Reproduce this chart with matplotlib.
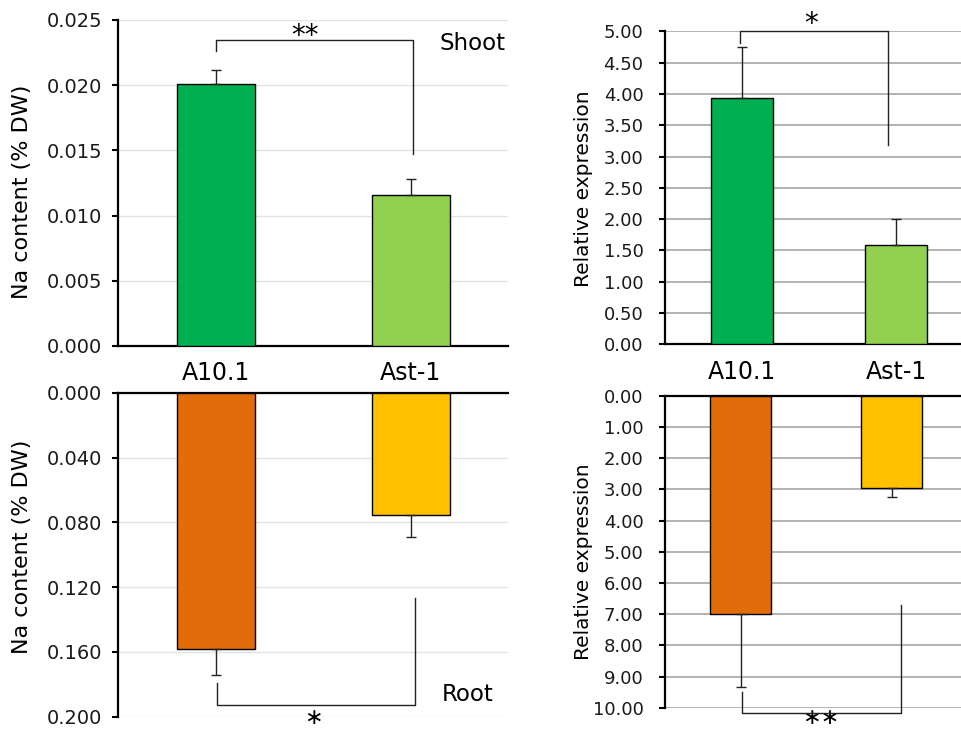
import matplotlib.pyplot as plt
import matplotlib.transforms as mtransforms
import numpy as np

# data
lines = ['A10.1', 'Ast-1']
na_shoot = [0.0201, 0.0116]
na_shoot_err = [0.0011, 0.0012]
na_root = [0.158, 0.0755]
na_root_err = [0.0163, 0.0134]
expr_shoot = [3.94, 1.58]
expr_shoot_err = [0.81, 0.42]
expr_root = [7.01, 2.95]
expr_root_err = [2.34, 0.31]

shoot_colors = ['#00b050', '#92d050']
root_colors = ['#e36c0a', '#ffc000']

plt.rcParams['font.family'] = 'DejaVu Sans'

fig = plt.figure(figsize=(9.62, 7.29), dpi=100)
ax_tl = fig.add_axes([0.1227, 0.5254, 0.4054, 0.4472])
ax_bl = fig.add_axes([0.1227, 0.0169, 0.4054, 0.4444])
ax_tr = fig.add_axes([0.6913, 0.5277, 0.3202, 0.4293])
ax_br = fig.add_axes([0.6913, 0.0292, 0.3140, 0.4280])

x = np.arange(len(lines))


def style_axes(ax, grid_color, grid_lw, top_axis, pad):
    ax.set_xlim(-0.5, 1.5)
    for s in ['left', 'right', 'top', 'bottom']:
        ax.spines[s].set_visible(False)
    ax.spines['left'].set_visible(True)
    ax.spines['left'].set_linewidth(1.6)
    edge = 'top' if top_axis else 'bottom'
    ax.spines[edge].set_visible(True)
    ax.spines[edge].set_linewidth(1.6)
    ax.yaxis.grid(True, color=grid_color, linewidth=grid_lw)
    ax.set_axisbelow(True)
    ax.tick_params(axis='y', direction='out', length=4, width=1.5, pad=pad,
                   labelcolor='#1a1a1a')
    ax.tick_params(axis='x', length=0)


def draw_bars(ax, vals, errs, colors):
    ax.bar(x, vals, width=0.4, color=colors, edgecolor='black', linewidth=1.0, zorder=3)
    ax.errorbar(x, vals, yerr=[[0, 0], errs], fmt='none', ecolor='#222222',
                elinewidth=1.0, capsize=3.5, capthick=1.0, zorder=4)


def bracket(ax, xs, ys):
    ax.plot(xs, ys, color='#222222', linewidth=1.0, clip_on=False, zorder=5)


# top left: Na content shoot
draw_bars(ax_tl, na_shoot, na_shoot_err, shoot_colors)
style_axes(ax_tl, '#e3e3e3', 1.0, False, 7.5)
ax_tl.set_ylim(0, 0.025)
ax_tl.set_yticks(np.arange(0, 0.0251, 0.005))
ax_tl.set_yticklabels([f'{v:.3f}' for v in np.arange(0, 0.0251, 0.005)], fontsize=14)
ax_tl.set_xticks(x)
ax_tl.set_xticklabels(lines, fontsize=17)
ax_tl.tick_params(axis='x', pad=11)
ax_tl.set_ylabel('Na content (% DW)', fontsize=16)
ax_tl.yaxis.set_label_coords(-0.22, 0.472)
bracket(ax_tl, [0.0, 0.0, 1.013, 1.013], [0.0226, 0.02344, 0.02344, 0.0147])
ax_tl.text(0.46, 0.0238, '**', fontsize=20, ha='center', va='center')
ax_tl.text(1.32, 0.02323, 'Shoot', fontsize=16.5, ha='center', va='center')

# bottom left: Na content root (inverted)
draw_bars(ax_bl, na_root, na_root_err, root_colors)
style_axes(ax_bl, '#e3e3e3', 1.0, True, 7.5)
ax_bl.set_ylim(0.2, 0)
ax_bl.set_yticks(np.arange(0, 0.201, 0.04))
ax_bl.set_yticklabels([f'{v:.3f}' for v in np.arange(0, 0.201, 0.04)], fontsize=14)
ax_bl.set_xticks([])
ax_bl.set_ylabel('Na content (% DW)', fontsize=16)
ax_bl.yaxis.set_label_coords(-0.22, 0.525)
bracket(ax_bl, [0.006, 0.006, 1.023, 1.023], [0.179, 0.193, 0.193, 0.1265])
trans_bl = mtransforms.blended_transform_factory(ax_bl.transData, fig.transFigure)
ax_bl.text(0.5, 0.001, '\u2217', fontsize=16, ha='center', va='bottom', transform=trans_bl)
ax_bl.text(1.295, 0.1866, 'Root', fontsize=16.5, ha='center', va='center')

# top right: relative expression shoot
draw_bars(ax_tr, expr_shoot, expr_shoot_err, shoot_colors)
style_axes(ax_tr, '#a6a6a6', 1.2, False, 11.5)
ax_tr.set_ylim(0, 5)
ax_tr.set_yticks(np.arange(0, 5.01, 0.5))
ax_tr.set_yticklabels([f'{v:.2f}' for v in np.arange(0, 5.01, 0.5)], fontsize=13)
ax_tr.set_xticks(x)
ax_tr.set_xticklabels(lines, fontsize=17)
ax_tr.tick_params(axis='x', pad=11)
ax_tr.set_ylabel('Relative expression', fontsize=14.5)
ax_tr.yaxis.set_label_coords(-0.234, 0.496)
bracket(ax_tr, [-0.01, -0.01, 0.95, 0.95], [4.82, 5.0, 5.0, 3.19])
ax_tr.text(0.45, 5.12, '*', fontsize=20, ha='center', va='center')

# bottom right: relative expression root (inverted)
draw_bars(ax_br, expr_root, expr_root_err, root_colors)
style_axes(ax_br, '#a6a6a6', 1.2, True, 11.5)
ax_br.set_ylim(10, 0)
ax_br.set_yticks(np.arange(0, 10.01, 1))
ax_br.set_yticklabels([f'{v:.2f}' for v in np.arange(0, 10.01, 1)], fontsize=13)
ax_br.set_xticks([])
ax_br.set_ylabel('Relative expression', fontsize=14.5)
ax_br.yaxis.set_label_coords(-0.238, 0.468)
bracket(ax_br, [0.008, 0.008, 1.063, 1.063], [9.49, 10.16, 10.16, 6.71])
trans_br = mtransforms.blended_transform_factory(ax_br.transData, fig.transFigure)
ax_br.text(0.53, 0.001, '\u2217\u2217', fontsize=16, ha='center', va='bottom', transform=trans_br)

fig.savefig('out.png', dpi=100)
